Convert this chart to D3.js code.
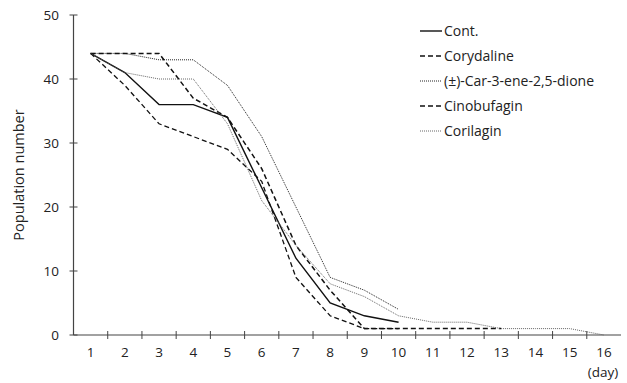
<!DOCTYPE html>
<html>
<head>
<meta charset="utf-8">
<script src="https://cdn.jsdelivr.net/npm/d3@7"></script>
<style>
  body { margin: 0; background: #fff; }
  text { font-family: "Open Sans", "Noto Sans", sans-serif; fill: #222; }
</style>
</head>
<body>
<div id="chart"></div>
<script>
const days = d3.range(1, 17);
const cont        = [44, 41, 36, 36, 34, 23, 12, 5, 3, 2];
const corydaline  = [44, 39, 33, 31, 29, 24, 9, 3, 1, 1];
const carene      = [44, 44, 43, 43, 39, 31, 20, 9, 7, 4];
const cinobufagin = [44, 44, 44, 37, 34, 26, 14, 7, 1, 1, 1, 1, 1];
const corilagin   = [44, 41, 40, 40, 33, 21, 14, 8, 6, 3, 2, 2, 1, 1, 1, 0];
const yTicks = [0, 10, 20, 30, 40, 50];

const series = [
  { name: "Cont.", values: cont, dash: null, width: 1.4, color: "#111" },
  { name: "Corydaline", values: corydaline, dash: "5,3", width: 1.3, color: "#111" },
  { name: "(\u00b1)-Car-3-ene-2,5-dione", values: carene, dash: "1,1", width: 1, color: "#222" },
  { name: "Cinobufagin", values: cinobufagin, dash: "5,3", width: 1.5, color: "#111" },
  { name: "Corilagin", values: corilagin, dash: "1,1", width: 0.9, color: "#555" }
];

const width = 627, height = 383;
const margin = { left: 73.5, right: 6, top: 15, bottom: 48 };

const svg = d3.select("#chart").append("svg")
  .attr("width", width).attr("height", height);

const x = d3.scaleBand().domain(days).range([margin.left, width - margin.right]);
const y = d3.scaleLinear().domain([0, 50]).range([height - margin.bottom, margin.top]);

const axisColor = "#444";

// x axis, ticks between the days
const xg = svg.append("g").attr("transform", `translate(0,${y(0)})`);
xg.append("line").attr("x1", margin.left).attr("x2", width - margin.right)
  .attr("stroke", axisColor).attr("stroke-width", 1.2);
xg.selectAll("line.tick").data(days.slice(1)).enter().append("line")
  .attr("class", "tick")
  .attr("x1", d => x(d)).attr("x2", d => x(d))
  .attr("y1", -4).attr("y2", 4)
  .attr("stroke", axisColor).attr("stroke-width", 1);
xg.selectAll("text").data(days).enter().append("text")
  .attr("x", d => x(d) + x.bandwidth() / 2).attr("y", 22)
  .attr("text-anchor", "middle").attr("font-size", 13.5)
  .text(d => d);
svg.append("text").attr("x", 603).attr("y", 377)
  .attr("text-anchor", "middle").attr("font-size", 13.5).text("(day)");

// y axis
const yg = svg.append("g");
yg.append("line").attr("x1", margin.left).attr("x2", margin.left)
  .attr("y1", y(0)).attr("y2", y(50))
  .attr("stroke", axisColor).attr("stroke-width", 1.2);
yg.selectAll("line.tick").data(yTicks).enter().append("line")
  .attr("class", "tick")
  .attr("x1", margin.left - 4).attr("x2", margin.left + 4)
  .attr("y1", d => y(d)).attr("y2", d => y(d))
  .attr("stroke", axisColor).attr("stroke-width", 1);
yg.selectAll("text").data(yTicks).enter().append("text")
  .attr("x", 59).attr("y", d => y(d)).attr("dy", "0.35em")
  .attr("text-anchor", "end").attr("font-size", 13.5)
  .text(d => d);
svg.append("text")
  .attr("transform", `translate(24,${(y(0) + y(50)) / 2}) rotate(-90)`)
  .attr("text-anchor", "middle").attr("font-size", 14.5)
  .text("Population number");

// lines
const line = d3.line()
  .x((d, i) => x(days[i]) + x.bandwidth() / 2)
  .y(d => y(d));

svg.selectAll("path.series").data(series).enter().append("path")
  .attr("class", "series")
  .attr("d", d => line(d.values))
  .attr("fill", "none")
  .attr("stroke", d => d.color)
  .attr("stroke-width", d => d.width)
  .attr("stroke-dasharray", d => d.dash);

// legend
const lg = svg.append("g").attr("transform", "translate(420,31)");
const rows = lg.selectAll("g").data(series).enter().append("g")
  .attr("transform", (d, i) => `translate(0,${i * 25})`);
rows.append("line").attr("x1", 0).attr("x2", 22)
  .attr("stroke", d => d.color)
  .attr("stroke-width", d => d.width)
  .attr("stroke-dasharray", d => d.dash);
rows.append("text").attr("x", 24).attr("dy", "0.35em")
  .attr("font-size", 14).text(d => d.name);
</script>
</body>
</html>
